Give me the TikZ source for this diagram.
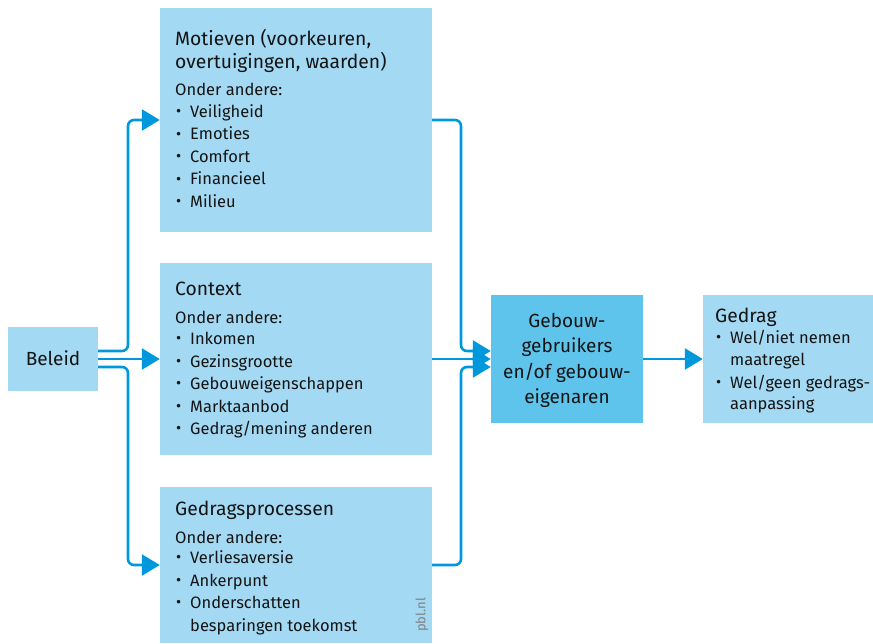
\documentclass[tikz,border=0pt]{standalone}
\usepackage{fontspec}
\setmainfont{Fira Sans}
\usetikzlibrary{arrows.meta,calc}
\definecolor{boxlight}{RGB}{164,217,243}
\definecolor{boxdark}{RGB}{94,196,236}
\definecolor{arrowblue}{RGB}{0,152,220}
\definecolor{txt}{RGB}{20,20,20}
\newcommand{\pblbul}{\makebox[14pt][l]{\raisebox{0.3pt}{\scalebox{0.95}{•}}}}
\begin{document}
\begin{tikzpicture}[x=1pt,y=-1pt,
  lbox/.style={draw=none,fill=boxlight,inner sep=0,minimum width=#1},
  lbox/.default=272,
  ttl/.style={anchor=base west,inner sep=0,font=\fontsize{19.3}{22}\selectfont,text=txt},
  body/.style={anchor=base west,inner sep=0,font=\fontsize{16.5}{20}\selectfont,text=txt},
  ctr/.style={anchor=base,inner sep=0,font=\fontsize{19}{22}\selectfont,text=txt},
  conn/.style={draw=arrowblue,line width=2.6pt,rounded corners=6pt,-{Triangle[length=18pt,width=21pt]}}
]
\useasboundingbox (0,0) rectangle (873,643);
% boxes
\node[lbox=90,minimum height=64] (beleid) at (53,359) {};
\node[lbox,minimum height=224] (mot) at (296,120) {};
\node[lbox,minimum height=192] (ctx) at (296,359) {};
\node[lbox,minimum height=156] (gp) at (296,565) {};
\node[lbox=152,fill=boxdark,minimum height=128] (geb) at (567,359) {};
\node[lbox=170,minimum height=128] (gedrag) at (788,359) {};
\coordinate (lx) at (128,0);
\coordinate (rx) at (461,0);
% connectors left
\draw[conn] ($(beleid.east)+(0,-8)$) -| (lx |- mot.west) -- (mot.west);
\draw[conn] (beleid.east) -- (ctx.west);
\draw[conn] ($(beleid.east)+(0,8)$) -| (lx |- gp.west) -- (gp.west);
% connectors right
\draw[conn] (mot.east) -| ($(rx |- geb.west)+(0,-8)$) -- ($(geb.west)+(0,-8)$);
\draw[conn] (ctx.east) -- (geb.west);
\draw[conn] (gp.east) -| ($(rx |- geb.west)+(0,8)$) -- ($(geb.west)+(0,8)$);
\draw[conn] (geb.east) -- (gedrag.west);
% texts
\node[ctr] (tbeleid) at (53,365) {Beleid};
\node[ttl] (m1) at (175,45) {Motieven (voorkeuren,};
\node[ttl] (m2) at (175,68) {overtuigingen, waarden)};
\node[body] (m3) at (175,95) {Onder andere:};
\node[body] (m4) at (176,117) {\pblbul Veiligheid};
\node[body] (m5) at (176,139.5) {\pblbul Emoties};
\node[body] (m6) at (176,162) {\pblbul Comfort};
\node[body] (m7) at (176,184.5) {\pblbul Financieel};
\node[body] (m8) at (176,207) {\pblbul Milieu};
\node[ttl] (c1) at (175,295) {Context};
\node[body] (c2) at (175,323) {Onder andere:};
\node[body] (c3) at (176,344) {\pblbul Inkomen};
\node[body] (c4) at (176,367) {\pblbul Gezinsgrootte};
\node[body] (c5) at (176,389) {\pblbul Gebouweigenschappen};
\node[body] (c6) at (176,412) {\pblbul Marktaanbod};
\node[body] (c7) at (176,434) {\pblbul Gedrag/mening anderen};
\node[ttl] (g1) at (175,515) {Gedragsprocessen};
\node[body] (g2) at (175,543) {Onder andere:};
\node[body] (g3) at (176,563) {\pblbul Verliesaversie};
\node[body] (g4) at (176,586) {\pblbul Ankerpunt};
\node[body] (g5) at (176,608) {\pblbul Onderschatten};
\node[body] (g6) at (190,631) {besparingen toekomst};
\node[inner sep=0,rotate=90,font=\fontsize{13}{15}\selectfont,text=gray] (pbl) at (422,615) {pbl.nl};
\node[ctr] (b1) at (567,327) {Gebouw-};
\node[ctr] (b2) at (567,352) {gebruikers};
\node[ctr] (b3) at (567,378) {en/of gebouw-};
\node[ctr] (b4) at (567,403) {eigenaren};
\node[ttl] (d1) at (715,322) {Gedrag};
\node[body] (d2) at (716,343) {\pblbul Wel/niet nemen};
\node[body] (d3) at (730,365) {maatregel};
\node[body] (d4) at (716,388) {\pblbul Wel/geen gedrags-};
\node[body] (d5) at (730,409) {aanpassing};
\end{tikzpicture}
\end{document}
